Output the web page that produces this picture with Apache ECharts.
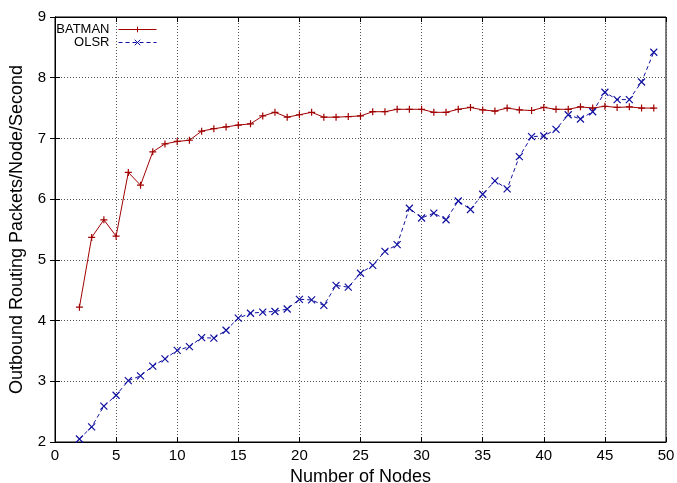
<!DOCTYPE html>
<html>
<head>
<meta charset="utf-8">
<script src="https://cdn.jsdelivr.net/npm/echarts@6/dist/echarts.min.js"></script>
<style>
  html, body { margin: 0; padding: 0; background: #fff; }
  #chart { width: 677px; height: 483px; }
</style>
</head>
<body>
<div id="chart"></div>
<script>
var nodes = [2,3,4,5,6,7,8,9,10,11,12,13,14,15,16,17,18,19,20,21,22,23,24,25,26,27,28,29,30,31,32,33,34,35,36,37,38,39,40,41,42,43,44,45,46,47,48,49];
var batman = [4.22,5.37,5.66,5.39,6.44,6.23,6.78,6.91,6.95,6.97,7.12,7.16,7.19,7.22,7.24,7.37,7.43,7.35,7.39,7.43,7.35,7.35,7.36,7.37,
              7.44,7.44,7.48,7.48,7.48,7.43,7.43,7.48,7.51,7.47,7.45,7.50,7.47,7.46,7.51,7.48,7.48,7.52,7.50,7.53,7.51,7.52,7.50,7.50];
var olsr = [2.05,2.25,2.59,2.77,3.01,3.09,3.25,3.37,3.51,3.57,3.72,3.71,3.84,4.04,4.12,4.14,4.15,4.19,4.35,4.34,4.25,4.58,4.55,4.78,
            4.91,5.14,5.25,5.85,5.69,5.77,5.66,5.97,5.83,6.08,6.30,6.17,6.70,7.03,7.04,7.15,7.39,7.32,7.44,7.76,7.64,7.64,7.93,8.42];

function pairs(xs, ys) {
  var out = [];
  for (var i = 0; i < xs.length; i++) out.push([xs[i], ys[i]]);
  return out;
}

var red = '#a00000';
var blue = '#1010a0';
var plus = 'path://M0,5L10,5M5,0L5,10';
var cross = 'path://M0,0L10,10M10,0L0,10';

var myChart = echarts.init(document.getElementById('chart'));

// gnuplot style legend: text first, sample line on its right
function legendAt(name, top) {
  return {
    data: [name], right: 520, top: top, align: 'right', itemWidth: 38, itemHeight: 7, itemGap: 0,
    padding: 0, lineStyle: { width: 1 }, itemStyle: { borderWidth: 1 },
    textStyle: { fontSize: 13, color: '#000', padding: [0, 4, 0, 0] }
  };
}

var option = {
  animation: false,
  textStyle: { fontFamily: 'Liberation Sans, Arial, sans-serif', color: '#000' },
  grid: { left: 55, right: 11, top: 17, bottom: 41, show: true, borderColor: '#000', borderWidth: 1,
          containLabel: false, outerBoundsMode: 'none' },
  legend: [legendAt('BATMAN', 23), legendAt('OLSR', 36)],
  xAxis: [
    {
      type: 'value', min: 0, max: 50, interval: 5,
      name: 'Number of Nodes', nameLocation: 'middle', nameGap: 21,
      nameTextStyle: { fontSize: 18, color: '#000' },
      axisLine: { lineStyle: { color: '#000' } },
      axisTick: { inside: true, length: 5, lineStyle: { color: '#000' } },
      axisLabel: { fontSize: 15, color: '#000', margin: 6 },
      splitLine: { show: true, lineStyle: { color: '#555', type: [1, 2], width: 1 } }
    },
    {
      type: 'value', min: 0, max: 50, interval: 5, position: 'top',
      axisLine: { lineStyle: { color: '#000' } },
      axisTick: { inside: true, length: 5, lineStyle: { color: '#000' } },
      axisLabel: { show: false }, splitLine: { show: false }
    }
  ],
  yAxis: [
    {
      type: 'value', min: 2, max: 9, interval: 1,
      name: 'Outbound Routing Packets/Node/Second', nameLocation: 'middle', nameGap: 29,
      nameTextStyle: { fontSize: 18, color: '#000' },
      axisLine: { show: true, lineStyle: { color: '#000' } },
      axisTick: { show: true, inside: true, length: 5, lineStyle: { color: '#000' } },
      axisLabel: { fontSize: 15, color: '#000', margin: 9 },
      splitLine: { show: true, lineStyle: { color: '#555', type: [1, 2], width: 1 } }
    },
    {
      type: 'value', min: 2, max: 9, interval: 1, position: 'right',
      axisLine: { show: true, lineStyle: { color: '#000' } },
      axisTick: { show: true, inside: true, length: 5, lineStyle: { color: '#000' } },
      axisLabel: { show: false }, splitLine: { show: false }
    }
  ],
  series: [
    {
      name: 'BATMAN', type: 'line', data: pairs(nodes, batman),
      symbol: plus, symbolSize: 7,
      lineStyle: { color: red, width: 1 },
      itemStyle: { color: red, borderColor: red, borderWidth: 1.2 }
    },
    {
      name: 'OLSR', type: 'line', data: pairs(nodes, olsr),
      symbol: cross, symbolSize: 7,
      lineStyle: { color: blue, width: 1, type: [4, 3] },
      itemStyle: { color: blue, borderColor: blue, borderWidth: 1.2 }
    }
  ]
};
myChart.setOption(option);
</script>
</body>
</html>
